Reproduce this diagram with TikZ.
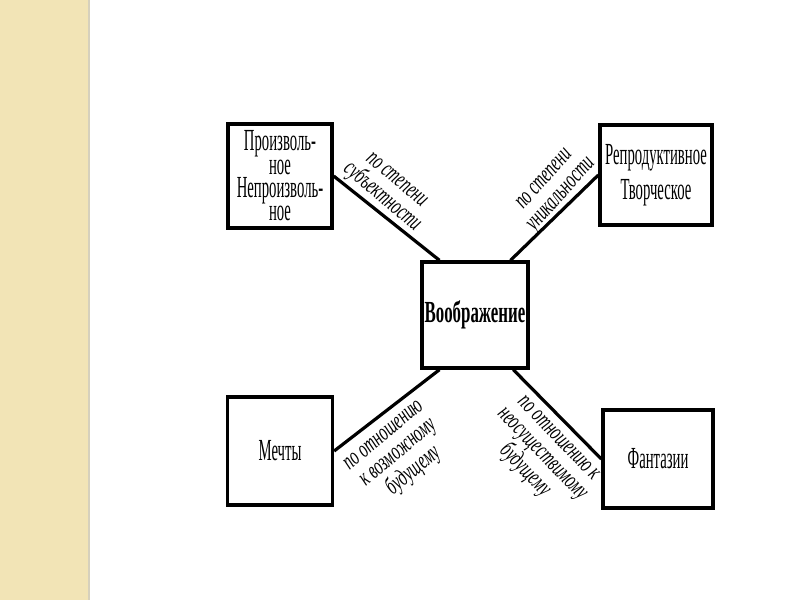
\documentclass[tikz,border=0pt]{standalone}
\usepackage{fontspec}
\setmainfont{Liberation Serif}
\newfontfamily\boxfont[FakeStretch=0.48]{Liberation Serif}
\newfontfamily\centfont[FakeStretch=0.55]{Liberation Serif}
\newfontfamily\labfont[FakeStretch=0.62]{Liberation Serif}
\definecolor{stripcol}{RGB}{242,228,182}
\definecolor{stripedge}{RGB}{214,208,188}
\begin{document}
\begin{tikzpicture}[x=0.75pt,y=-0.75pt,
  bx/.style={draw=black, line width=2.5pt, fill=white, inner sep=0pt, align=center,
    font=\boxfont\fontsize{23}{17.5}\selectfont},
  bxwide/.style={bx, font=\boxfont\fontsize{23}{26}\selectfont},
  cbx/.style={bx, font=\centfont\bfseries\fontsize{23}{23}\selectfont},
  conn/.style={line width=2.4pt},
  lab/.style={inner sep=0pt, align=center, font=\labfont\itshape\fontsize{18.5}{17}\selectfont}]
\useasboundingbox (0,0) rectangle (800,600);
\fill[stripcol] (0,0) rectangle (88,600);
\draw[stripedge, line width=1.5pt] (89,0) -- (89,600);

\node[bx, minimum width=78pt, minimum height=78pt] (tl) at (280,176)
  {Произволь-\\ное\\Непроизволь-\\ное};
\node[bxwide, minimum width=84pt, minimum height=75pt] (tr) at (656,175)
  {Репродуктивное\\Творческое};
\node[cbx, minimum width=79.5pt, minimum height=79.5pt] (c) at (475,315)
  {Воображение};
\node[bx, minimum width=78.75pt, minimum height=81pt] (bl) at (280,451)
  {Мечты};
\node[bx, minimum width=82.5pt, minimum height=73.5pt] (br) at (658,459)
  {Фантазии};

\draw[conn] (tl.east) -- (c.123);
\draw[conn] (tr.west) -- (c.57);
\draw[conn] (bl.east) -- (c.-123);
\draw[conn] (br.west) -- (c.-55);

\node[lab, rotate=-40] (l1) at (388,190) {по степени\\субъектности};
\node[lab, rotate=48] (l2) at (554,188) {по степени\\уникальности};
\node[lab, rotate=40] (l3) at (400,455) {по отношению\\к возможному\\будущему};
\node[lab, rotate=-46] (l4) at (540,456) {по отношению к\\неосуществимому\\будущему};
\end{tikzpicture}
\end{document}
